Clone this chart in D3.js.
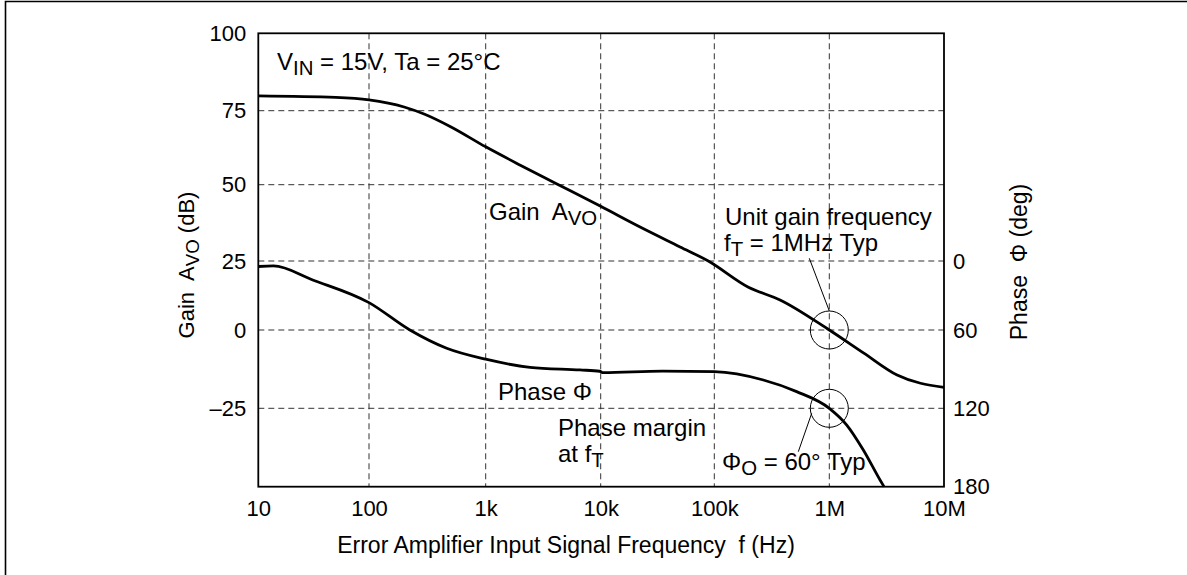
<!DOCTYPE html>
<html lang="en">
<head>
<meta charset="UTF-8">
<title>Error amplifier gain / phase vs frequency</title>
<style>
  body { margin: 0; background: #fff; }
  svg text { font-family: "Liberation Sans", Arial, sans-serif; fill: #000; white-space: pre; }
</style>
</head>
<body>
<script src="https://d3js.org/d3.v7.min.js"></script>
<script>
// gain curve (Hz, dB)
var gainFreq = [10, 50, 100, 200, 300, 500, 1000, 2000, 4000, 10000, 22000, 50000, 88500, 198000, 373000, 1e6, 2e6, 3.9e6, 1e7];
var gainDb   = [79.8, 79.3, 78.5, 76.2, 73.8, 69.6, 62.8, 56.6, 50.6, 42.9, 36.2, 29.6, 25, 15.5, 10.9, 0, -7.4, -14.4, -18.3];

// phase curve (Hz, deg)
var phaseFreq = [10, 13.7, 31, 100, 224, 463, 1000, 2430, 6600, 9800, 10500, 35000, 100000, 267000, 520000, 1e6, 1.42e6, 1.98e6, 2.77e6, 3e6];
var phaseDeg  = [4.8, 4.3, 16.5, 36.2, 60, 74, 82.4, 88.6, 90.6, 91.6, 92.7, 91.5, 91.9, 98.3, 107.2, 120, 132.8, 151.9, 174.9, 180];

// axis ticks
var freqTicks = [10, 100, 1e3, 1e4, 1e5, 1e6, 1e7];
var freqLabels = ["10", "100", "1k", "10k", "100k", "1M", "10M"];
var gainTicks = [-25, 0, 25, 50, 75, 100];
var gainLabels = ["\u201325", "0", "25", "50", "75", "100"];
var phaseTicks = [0, 60, 120, 180];
var phaseLabels = ["0", "60", "120", "180"];

var W = 1187, H = 575;
var tickFs = 22, noteFs = 24;

var svg = d3.select("body").append("svg")
  .attr("width", W)
  .attr("height", H);

// outer frame (left and top edges only show in the crop)
svg.append("path")
  .attr("d", "M5.5," + H + "V1.5H" + W)
  .attr("fill", "none")
  .attr("stroke", "#000")
  .attr("stroke-width", 1.6);

// the scanned grid is not quite even, so the scales are calibrated per gridline
var x = d3.scaleLog()
  .domain(freqTicks)
  .range([258.3, 369, 485.7, 600.7, 714.3, 829.3, 944]);
var y = d3.scaleLinear()
  .domain([-50, -25, 0, 25, 50, 75, 100])
  .range([486.7, 408.3, 330, 261, 184.7, 110.7, 33.3]);
var yPhase = d3.scaleLinear()
  .domain([0, 60, 120, 180])
  .range([y(25), y(0), y(-25), y(-50)]);

var pLeft = x(10), pRight = x(1e7), pTop = y(100), pBottom = y(-50);

// grid
var grid = svg.append("g")
  .attr("stroke", "#333")
  .attr("stroke-width", 1)
  .attr("stroke-dasharray", "6,4");
grid.selectAll("line.v")
  .data(freqTicks.slice(1, -1))
  .enter().append("line")
  .attr("class", "v")
  .attr("x1", function(d) { return x(d); })
  .attr("x2", function(d) { return x(d); })
  .attr("y1", pTop)
  .attr("y2", pBottom);
grid.selectAll("line.h")
  .data([-25, 0, 25, 50, 75])
  .enter().append("line")
  .attr("class", "h")
  .attr("x1", pLeft)
  .attr("x2", pRight)
  .attr("y1", function(d) { return y(d); })
  .attr("y2", function(d) { return y(d); });

// axes: labels only, no tick marks
var xAxis = d3.axisBottom(x)
  .tickValues(freqTicks)
  .tickFormat(function(d, i) { return freqLabels[i]; })
  .tickSize(0)
  .tickPadding(14);
var yAxis = d3.axisLeft(y)
  .tickValues(gainTicks)
  .tickFormat(function(d, i) { return gainLabels[i]; })
  .tickSize(0)
  .tickPadding(12);
var pAxis = d3.axisRight(yPhase)
  .tickValues(phaseTicks)
  .tickFormat(function(d, i) { return phaseLabels[i]; })
  .tickSize(0)
  .tickPadding(9);

function styleAxis(g) {
  g.attr("font-family", null).attr("font-size", null);
  g.select(".domain").remove();
  g.selectAll("text")
    .attr("font-size", tickFs)
    .attr("fill", "#000");
}

svg.append("g")
  .attr("transform", "translate(0," + pBottom + ")")
  .call(xAxis).call(styleAxis);
svg.append("g")
  .attr("transform", "translate(" + pLeft + ",0)")
  .call(yAxis).call(styleAxis);
svg.append("g")
  .attr("transform", "translate(" + pRight + ",0)")
  .call(pAxis).call(styleAxis);

// plot frame
svg.append("rect")
  .attr("x", pLeft)
  .attr("y", pTop)
  .attr("width", pRight - pLeft)
  .attr("height", pBottom - pTop)
  .attr("fill", "none")
  .attr("stroke", "#000")
  .attr("stroke-width", 1.8);

// curves
var gainLine = d3.line()
  .x(function(d, i) { return x(gainFreq[i]); })
  .y(function(d) { return y(d); })
  .curve(d3.curveMonotoneX);
var phaseLine = d3.line()
  .x(function(d, i) { return x(phaseFreq[i]); })
  .y(function(d) { return yPhase(d); })
  .curve(d3.curveMonotoneX);

svg.append("path")
  .attr("d", gainLine(gainDb))
  .attr("fill", "none")
  .attr("stroke", "#000")
  .attr("stroke-width", 2.8);
svg.append("path")
  .attr("d", phaseLine(phaseDeg))
  .attr("fill", "none")
  .attr("stroke", "#000")
  .attr("stroke-width", 2.8);

// marker circles at f_T
var cx = x(1e6);
svg.append("circle")
  .attr("cx", cx).attr("cy", y(0)).attr("r", 19)
  .attr("fill", "none").attr("stroke", "#000").attr("stroke-width", 1);
svg.append("circle")
  .attr("cx", cx).attr("cy", yPhase(120)).attr("r", 19)
  .attr("fill", "none").attr("stroke", "#000").attr("stroke-width", 1);

// leader lines
svg.append("line")
  .attr("x1", 809.3).attr("y1", 258.3)
  .attr("x2", cx).attr("y2", y(0) - 19)
  .attr("stroke", "#000").attr("stroke-width", 1);
svg.append("line")
  .attr("x1", 811.7).attr("y1", 413.3)
  .attr("x2", 798.3).attr("y2", 451.7)
  .attr("stroke", "#000").attr("stroke-width", 1);

// text with a subscript part
function label(x0, y0, parts, fs, anchor) {
  var t = svg.append("text")
    .attr("x", x0)
    .attr("y", y0)
    .attr("font-size", fs)
    .attr("text-anchor", anchor || "start");
  var sub = false;
  parts.forEach(function(p) {
    var s = t.append("tspan").text(p[0]);
    if (p[1]) {
      s.attr("font-size", fs * 0.85);
      if (!sub) s.attr("dy", 5);
      sub = true;
    } else if (sub) {
      s.attr("dy", -5);
      sub = false;
    }
  });
  return t;
}

label(277, 70, [["V"], ["IN", 1], [" = 15V, Ta = 25\u00b0C"]], noteFs);
label(489, 220, [["Gain  A"], ["VO", 1]], noteFs);
label(725, 225, [["Unit gain frequency"]], noteFs);
label(724, 251, [["f"], ["T", 1], [" = 1MHz Typ"]], noteFs);
label(498, 400, [["Phase \u03a6"]], noteFs);
label(558, 436, [["Phase margin"]], noteFs);
label(558, 462, [["at f"], ["T", 1]], noteFs);
label(722, 470, [["\u03a6"], ["O", 1], [" = 60\u00b0 Typ"]], noteFs);

// axis titles
label(194, 265, [["Gain  A"], ["VO", 1], [" (dB)"]], 22, "middle")
  .attr("transform", "rotate(-90,194,265)");
label(1027, 262, [["Phase  \u03a6 (deg)"]], 23, "middle")
  .attr("transform", "rotate(-90,1027,262)");
label(566, 553, [["Error Amplifier Input Signal Frequency  f (Hz)"]], 23, "middle");
</script>
</body>
</html>
